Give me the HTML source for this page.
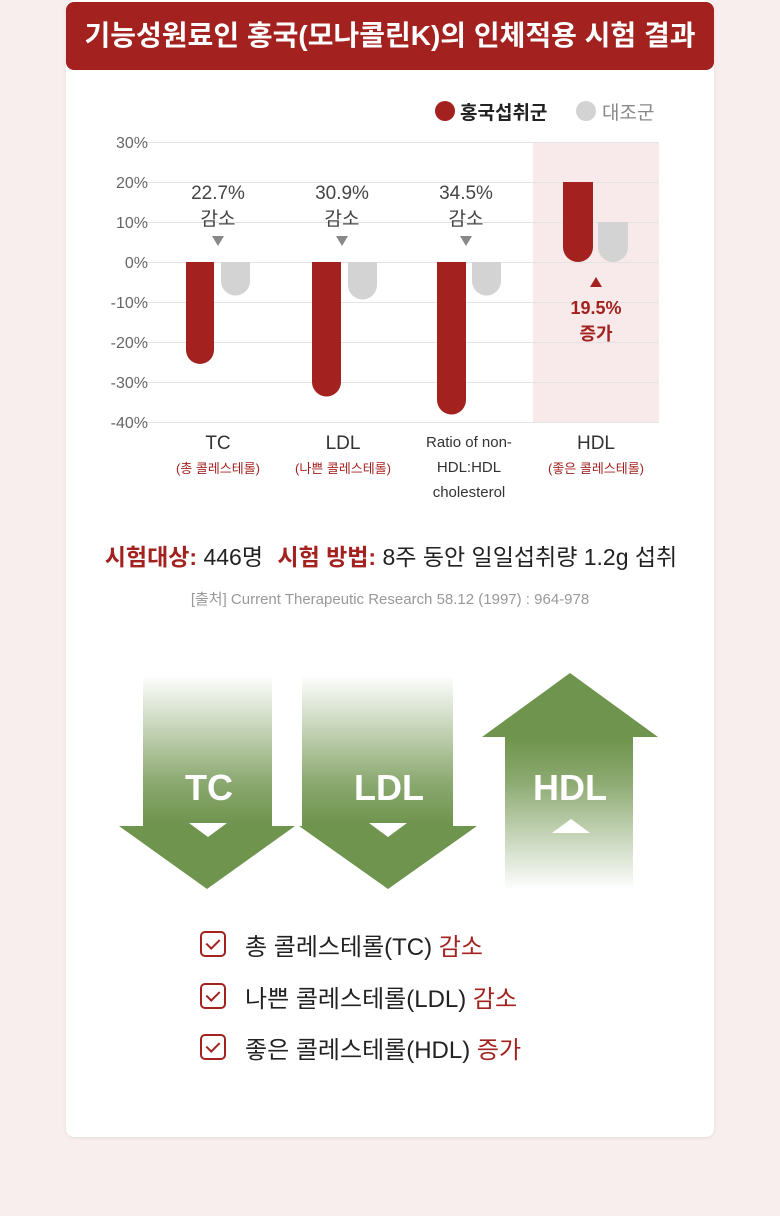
<!DOCTYPE html>
<html><head><meta charset="utf-8"><style>
body{margin:0;width:780px;height:1216px;background:#f8eeee;font-family:"Liberation Sans","Noto Sans CJK KR",sans-serif;position:relative;overflow:hidden}
.card{position:absolute;left:66px;top:0;width:648px;height:1137px;background:#fff;border-radius:8px;box-shadow:0 1px 4px rgba(0,0,0,.08)}
.hdr{position:absolute;left:66px;top:2px;width:648px;height:68px;background:#a3221f;border-radius:8px;color:#fff;font-size:28px;font-weight:bold;text-align:center;line-height:68px;letter-spacing:0}
.chk{position:absolute;left:200px;width:26px;height:26px;border:2px solid #a3221f;border-radius:5px;box-sizing:border-box}
.chk:after{content:"";position:absolute;left:7px;top:3px;width:6px;height:11px;border:solid #a3221f;border-width:0 2px 2px 0;transform:rotate(45deg)}
.ci{position:absolute;left:245px;font-size:24px;color:#222;white-space:nowrap}
.ci b{color:#a3221f;font-weight:normal}
</style></head><body>
<div class="card"></div>
<div class="hdr">기능성원료인 홍국(모나콜린K)의 인체적용 시험 결과</div>
<svg width="780" height="700" style="position:absolute;left:0;top:0" font-family="Liberation Sans, Noto Sans CJK KR, sans-serif">
<circle cx="445" cy="111" r="10" fill="#a3221f"/><text x="460" y="119" font-size="19" font-weight="bold" fill="#222">홍국섭취군</text>
<circle cx="586" cy="111" r="10" fill="#d3d3d3"/><text x="602" y="119" font-size="19" fill="#888">대조군</text>
<rect x="533" y="142" width="126" height="280" fill="#f8eaea"/>
<g stroke="#e3e3e3" stroke-width="1">
<line x1="143" y1="142.5" x2="659" y2="142.5"/><line x1="143" y1="182.5" x2="659" y2="182.5"/><line x1="143" y1="222.5" x2="659" y2="222.5"/><line x1="143" y1="262.5" x2="659" y2="262.5"/><line x1="143" y1="302.5" x2="659" y2="302.5"/><line x1="143" y1="342.5" x2="659" y2="342.5"/><line x1="143" y1="382.5" x2="659" y2="382.5"/><line x1="143" y1="422.5" x2="659" y2="422.5"/></g>
<g font-size="16" fill="#666" text-anchor="end">
<text x="148" y="148">30%</text><text x="148" y="188">20%</text><text x="148" y="228">10%</text><text x="148" y="268">0%</text><text x="148" y="308">-10%</text><text x="148" y="348">-20%</text><text x="148" y="388">-30%</text><text x="148" y="428">-40%</text></g>
<g fill="#a3221f">
<path d="M186 262H214V350A14 14 0 0 1 186 350Z"/>
<path d="M312 262H341V382A14.5 14.5 0 0 1 312 382Z"/>
<path d="M437 262H466V400A14.5 14.5 0 0 1 437 400Z"/>
<path d="M563 182H593V247A15 15 0 0 1 563 247Z"/></g>
<g fill="#d3d3d3">
<path d="M221 262H250V281A14.5 14.5 0 0 1 221 281Z"/>
<path d="M348 262H377V285A14.5 14.5 0 0 1 348 285Z"/>
<path d="M472 262H501V281A14.5 14.5 0 0 1 472 281Z"/>
<path d="M598 222H628V247A15 15 0 0 1 598 247Z"/></g>
<g font-size="19" fill="#444" text-anchor="middle">
<text x="218" y="199">22.7%</text><text x="218" y="225">감소</text>
<text x="342" y="199">30.9%</text><text x="342" y="225">감소</text>
<text x="466" y="199">34.5%</text><text x="466" y="225">감소</text></g>
<g fill="#888"><path d="M212 236h12l-6 10z"/><path d="M336 236h12l-6 10z"/><path d="M460 236h12l-6 10z"/></g>
<path d="M590 287h12l-6-10z" fill="#a3221f"/>
<text x="596" y="314" font-size="18" font-weight="bold" fill="#a3221f" text-anchor="middle">19.5%</text>
<text x="596" y="340" font-size="18" font-weight="bold" fill="#a3221f" text-anchor="middle">증가</text>
<g font-size="19" fill="#333" text-anchor="middle"><text x="218" y="449">TC</text><text x="343" y="449">LDL</text><text x="596" y="449">HDL</text></g>
<g font-size="13" fill="#a3221f" text-anchor="middle"><text x="218" y="473">(총 콜레스테롤)</text><text x="343" y="473">(나쁜 콜레스테롤)</text><text x="596" y="473">(좋은 콜레스테롤)</text></g>
<g font-size="15" fill="#333" text-anchor="middle"><text x="469" y="447">Ratio of non-</text><text x="469" y="472">HDL:HDL</text><text x="469" y="497">cholesterol</text></g>
<text x="391" y="565" font-size="23" fill="#222" text-anchor="middle"><tspan fill="#a3221f" font-weight="bold">시험대상:</tspan> 446명 <tspan dx="8" fill="#a3221f" font-weight="bold">시험 방법:</tspan> 8주 동안 일일섭취량 1.2g 섭취</text>
<text x="390" y="604" font-size="15" fill="#999" text-anchor="middle">[출처] Current Therapeutic Research 58.12 (1997) : 964-978</text>
</svg>
<svg width="780" height="260" style="position:absolute;left:0;top:660px" font-family="Liberation Sans, sans-serif">
<defs>
<linearGradient id="gd" x1="0" y1="0" x2="0" y2="1"><stop offset="0" stop-color="#6f944d" stop-opacity="0"/><stop offset="0.5" stop-color="#6f944d" stop-opacity="0.8"/><stop offset="0.7" stop-color="#6f944d"/></linearGradient>
<linearGradient id="gu" x1="0" y1="0" x2="0" y2="1"><stop offset="0.3" stop-color="#6f944d"/><stop offset="0.5" stop-color="#6f944d" stop-opacity="0.8"/><stop offset="1" stop-color="#6f944d" stop-opacity="0"/></linearGradient>
</defs>
<path d="M143 15H272V166H295L207 229L119 166H143Z" fill="url(#gd)"/>
<path d="M302 15H453V166H477L388 229L299 166H302Z" fill="url(#gd)"/>
<path d="M570 13L658 77H633V230H505V77H482Z" fill="url(#gu)"/>
<g font-size="36" font-weight="bold" fill="#fff" text-anchor="middle"><text x="209" y="140">TC</text><text x="389" y="140">LDL</text><text x="570" y="140">HDL</text></g>
<g fill="#fff"><path d="M189 163h38l-19 14z"/><path d="M369 163h38l-19 14z"/><path d="M552 173h38l-19-14z"/></g>
</svg>
<div class="chk" style="top:931px"></div><div class="ci" style="top:927px">총 콜레스테롤(TC) <b>감소</b></div>
<div class="chk" style="top:983px"></div><div class="ci" style="top:979px">나쁜 콜레스테롤(LDL) <b>감소</b></div>
<div class="chk" style="top:1034px"></div><div class="ci" style="top:1030px">좋은 콜레스테롤(HDL) <b>증가</b></div>
</body></html>
